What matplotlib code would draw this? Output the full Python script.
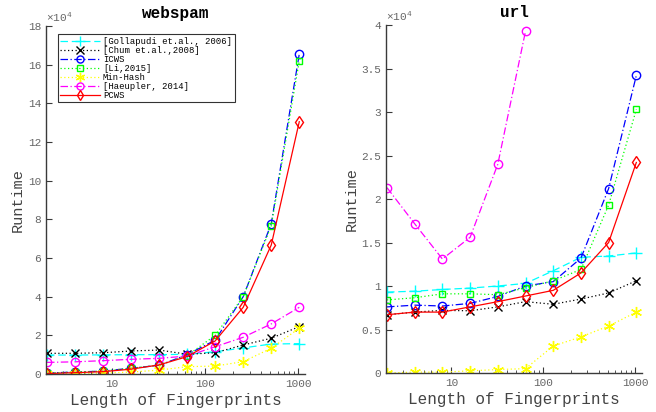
import matplotlib
matplotlib.use("Agg")
import matplotlib.pyplot as plt
from matplotlib.ticker import FixedLocator, FixedFormatter, LogLocator, NullFormatter

plt.rcParams['font.family'] = ['Liberation Mono', 'DejaVu Sans']
plt.rcParams['mathtext.fontset'] = 'custom'
plt.rcParams['mathtext.rm'] = 'Liberation Mono'

x = [2, 4, 8, 16, 32, 64, 128, 256, 512, 1024]

labels = ['[Gollapudi et.al., 2006]', '[Chum et.al.,2008]', 'ICWS', '[Li,2015]',
          'Min-Hash', '[Haeupler, 2014]', 'PCWS']

# webspam (x 1e4)
ws_gollapudi = [0.98, 0.98, 0.99, 1.0, 1.0, 1.02, 1.15, 1.35, 1.55, 1.57]
ws_chum = [1.07, 1.07, 1.1, 1.19, 1.24, 1.02, 1.1, 1.5, 1.85, 2.45]
ws_icws = [0.05, 0.1, 0.15, 0.3, 0.45, 1.0, 1.75, 4.0, 7.77, 16.55]
ws_li = [0.05, 0.1, 0.15, 0.3, 0.45, 0.95, 2.0, 4.0, 7.67, 16.2]
ws_minhash = [0.0, 0.02, 0.05, 0.1, 0.2, 0.38, 0.41, 0.64, 1.33, 2.37]
ws_haeupler = [0.6, 0.63, 0.69, 0.76, 0.81, 0.93, 1.41, 1.9, 2.59, 3.45]
ws_pcws = [0.02, 0.07, 0.12, 0.25, 0.47, 0.9, 1.71, 3.45, 6.67, 13.05]

# url (x 1e4)
url_gollapudi = [0.93, 0.94, 0.96, 0.976, 1.0, 1.03, 1.175, 1.33, 1.345, 1.38]
url_chum = [0.67, 0.70, 0.72, 0.715, 0.76, 0.82, 0.79, 0.85, 0.92, 1.06]
url_icws = [0.76, 0.78, 0.77, 0.80, 0.88, 1.0, 1.05, 1.32, 2.12, 3.42]
url_li = [0.84, 0.865, 0.91, 0.91, 0.90, 0.98, 1.06, 1.19, 1.93, 3.03]
url_minhash = [0.0, 0.01, 0.01, 0.025, 0.04, 0.05, 0.31, 0.415, 0.54, 0.70]
url_haeupler = [2.13, 1.715, 1.31, 1.56, 2.40, 3.93]
url_pcws = [0.67, 0.70, 0.70, 0.76, 0.82, 0.885, 0.95, 1.15, 1.50, 2.42]

styles = [
    dict(color=(0, 1, 1), marker='+', dashes=(6, 3), ms=8),
    dict(color='black', marker='x', dashes=(1, 2), ms=6),
    dict(color=(0, 0, 1), marker='o', dashes=(6, 2, 1, 2), ms=6, mfc='none'),
    dict(color=(0, 1, 0), marker='s', dashes=(1, 2), ms=5, mfc='none'),
    dict(color=(1, 1, 0), marker=(6, 2, 0), dashes=(1, 2), ms=8),
    dict(color=(1, 0, 1), marker='o', dashes=(6, 2, 1, 2), ms=6, mfc='none'),
    dict(color=(1, 0, 0), marker='d', dashes=None, ms=6, mfc='none'),
]

fig = plt.figure(figsize=(6.56, 4.12), dpi=100)
ax1 = fig.add_axes([46/656, 38/412, 259/656, 348/412])
ax2 = fig.add_axes([386/656, 39/412, 256/656, 348/412])

axcol = '#3a3a3a'
labcol = '#666666'

def draw(ax, series, xs_list, title, ymax, yticks, ylabels, legend=False):
    for s, xs, lab, st in zip(series, xs_list, labels, styles):
        kw = dict(color=st['color'], marker=st['marker'], ms=st['ms'], lw=0.9,
                  mew=1.0, label=lab)
        if 'mfc' in st:
            kw['mfc'] = st['mfc']
        line, = ax.plot(xs, s, **kw)
        if st['dashes'] is not None:
            line.set_dashes(st['dashes'])
    ax.set_xscale('log')
    ax.set_xlim(1.95, 1180)
    ax.set_ylim(0, ymax)
    ax.xaxis.set_major_locator(FixedLocator([10, 100, 1000]))
    ax.xaxis.set_major_formatter(FixedFormatter(['10', '100', '1000']))
    ax.xaxis.set_minor_locator(LogLocator(base=10, subs=range(2, 10)))
    ax.xaxis.set_minor_formatter(NullFormatter())
    ax.set_yticks(yticks)
    ax.set_yticklabels(ylabels)
    for sp in ['top', 'right']:
        ax.spines[sp].set_visible(False)
    for sp in ['left', 'bottom']:
        ax.spines[sp].set_color(axcol)
        ax.spines[sp].set_linewidth(1.0)
    ax.tick_params(which='both', direction='in', colors=axcol, labelcolor=labcol,
                   labelsize=8)
    ax.tick_params(which='major', length=4)
    ax.tick_params(which='minor', length=2.5)
    ax.set_title(title, fontsize=11.5, fontweight='bold', pad=6)
    ax.set_xlabel('Length of Fingerprints', fontsize=11.5, color='#444444', labelpad=3)
    ax.set_ylabel('Runtime', fontsize=11, color='#444444', labelpad=2)
    ax.text(0.0, 1.005, r'$\times\mathregular{10^4}$', transform=ax.transAxes,
            fontsize=8, color=labcol, ha='left', va='bottom')
    if legend:
        leg = ax.legend(loc='upper left', bbox_to_anchor=(0.045, 0.977), fontsize=6.4,
                        frameon=True, fancybox=False, edgecolor='black',
                        handlelength=4.5, borderpad=0.3, labelspacing=0.0,
                        handletextpad=0.3, borderaxespad=0, handleheight=0.5,
                        markerscale=0.85)
        leg.get_frame().set_linewidth(0.8)

ws = [ws_gollapudi, ws_chum, ws_icws, ws_li, ws_minhash, ws_haeupler, ws_pcws]
draw(ax1, ws, [x] * 7, 'webspam', 18, list(range(0, 19, 2)),
     [str(v) for v in range(0, 19, 2)], legend=True)

url = [url_gollapudi, url_chum, url_icws, url_li, url_minhash, url_haeupler, url_pcws]
xs_url = [x, x, x, x, x, x[:len(url_haeupler)], x]
uticks = [0, 0.5, 1, 1.5, 2, 2.5, 3, 3.5, 4]
draw(ax2, url, xs_url, 'url', 4, uticks, ['0', '0.5', '1', '1.5', '2', '2.5', '3', '3.5', '4'])

fig.savefig('out.png', dpi=100)
